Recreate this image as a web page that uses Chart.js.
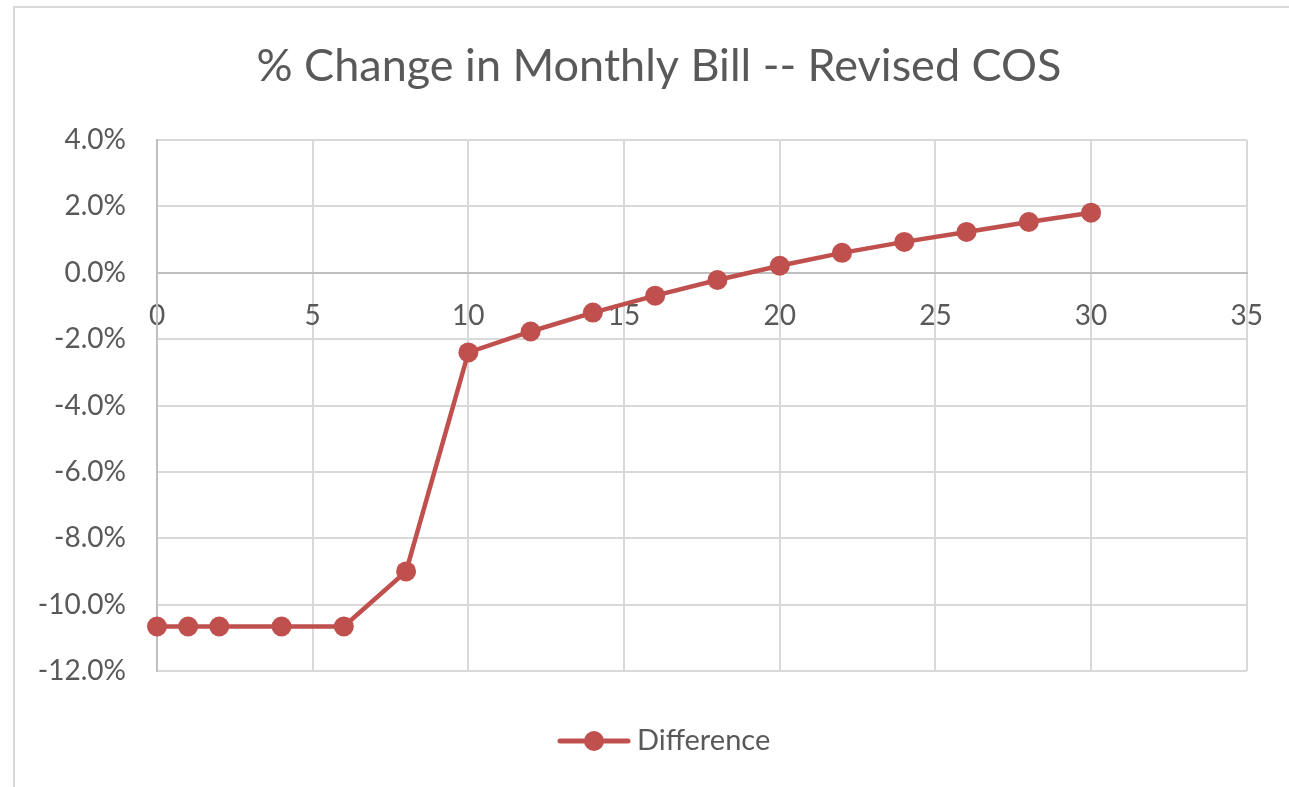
<!DOCTYPE html>
<html>
<head>
<meta charset="utf-8">
<script src="https://cdn.jsdelivr.net/npm/chart.js@4/dist/chart.umd.min.js"></script>
<style>
  html, body { margin: 0; padding: 0; background: #fff; overflow: hidden; }
  #wrap { position: relative; width: 1289px; height: 787px; }
  #frame { position: absolute; left: 13px; top: 6px; width: 1300px; height: 800px;
           border-top: 2px solid #d9d9d9; border-left: 2px solid #d9d9d9; }
  #myChart { position: absolute; left: 0; top: 0; }
</style>
</head>
<body>
<div id="wrap">
  <div id="frame"></div>
  <canvas id="myChart" width="1289" height="787"></canvas>
</div>
<script>
// datos del gráfico
const chartTitle = "% Change in Monthly Bill -- Revised COS";
const seriesName = "Difference";
const xValues = [0, 1, 2, 4, 6, 8, 10, 12, 14, 16, 18, 20, 22, 24, 26, 28, 30];
const pctChange = [-10.66, -10.66, -10.66, -10.66, -10.66, -9.0, -2.4, -1.77, -1.2, -0.69, -0.22, 0.21, 0.6, 0.93, 1.23, 1.53, 1.81];
const xTicks = [0, 5, 10, 15, 20, 25, 30, 35];
const yTicks = [-12, -10, -8, -6, -4, -2, 0, 2, 4];

const lineColor = "#C0504D";
const textColor = "#595959";

// título y leyenda dibujados a mano (como en Excel)
const titleAndLegend = {
  id: "titleAndLegend",
  afterDraw(chart) {
    const ctx = chart.ctx;
    ctx.save();
    ctx.fillStyle = textColor;
    ctx.textAlign = "center";
    ctx.textBaseline = "middle";
    ctx.font = "45px Lato";
    ctx.fillText(chartTitle, 659, 66);

    // muestra de la leyenda
    const ly = 741;
    ctx.strokeStyle = lineColor;
    ctx.lineWidth = 5;
    ctx.lineCap = "round";
    ctx.beginPath();
    ctx.moveTo(560, ly);
    ctx.lineTo(628, ly);
    ctx.stroke();
    ctx.fillStyle = lineColor;
    ctx.beginPath();
    ctx.arc(594, ly, 10, 0, Math.PI * 2);
    ctx.fill();

    ctx.fillStyle = textColor;
    ctx.textAlign = "left";
    ctx.font = "29px Lato";
    ctx.fillText(seriesName, 637, ly);
    ctx.restore();
  }
};

function drawChart() {
  const ctx = document.getElementById("myChart").getContext("2d");
  window.myChart = new Chart(ctx, {
    type: "scatter",
    data: {
      datasets: [
        {
          label: seriesName,
          data: xValues.map((x, i) => ({ x: x, y: pctChange[i] })),
          showLine: true,
          borderColor: lineColor,
          backgroundColor: lineColor,
          borderWidth: 4.5,
          pointRadius: 10,
          pointHoverRadius: 10,
          pointBorderWidth: 0,
          tension: 0,
          clip: false,
        },
      ],
    },
    options: {
      responsive: false,
      animation: false,
      layout: { padding: { left: 0, top: 140, right: 42, bottom: 116 } },
      plugins: {
        legend: { display: false },
        title: { display: false },
        tooltip: { enabled: false },
      },
      scales: {
        x: {
          type: "linear",
          position: { y: 0 },
          min: 0,
          max: 35,
          afterBuildTicks: (s) => { s.ticks = xTicks.map((v) => ({ value: v })); },
          ticks: {
            color: textColor,
            font: { family: "Lato", size: 28 },
            padding: 26,
            maxRotation: 0,
          },
          grid: { color: "#d9d9d9", lineWidth: 2, drawTicks: false },
          border: { color: "#bfbfbf", width: 2 },
        },
        y: {
          min: -12,
          max: 4,
          afterBuildTicks: (s) => { s.ticks = yTicks.map((v) => ({ value: v })); },
          afterFit: (s) => { s.width = 157; },
          ticks: {
            color: textColor,
            font: { family: "Lato", size: 28 },
            padding: 31,
            callback: (v) => v.toFixed(1) + "%",
          },
          grid: {
            color: (c) => (c.tick && c.tick.value === 0 ? "#bfbfbf" : "#d9d9d9"),
            lineWidth: 2,
            drawTicks: false,
          },
          border: { color: "#bfbfbf", width: 2 },
        },
      },
    },
    plugins: [titleAndLegend],
  });
}

document.addEventListener("DOMContentLoaded", function () {
  Promise.all([
    document.fonts.load("28px Lato"),
    document.fonts.load("45px Lato"),
  ]).then(drawChart).catch(function (error) {
    console.error("Error cargando fuentes:", error);
    drawChart();
  });
});
</script>
</body>
</html>
